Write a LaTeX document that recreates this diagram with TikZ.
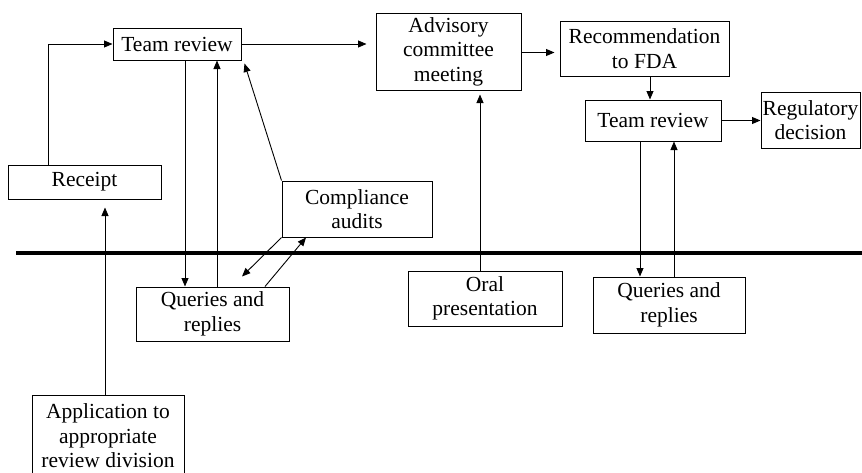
\documentclass[tikz,border=0pt]{standalone}
\usepackage{fontspec}
\setmainfont{Liberation Serif}
\usetikzlibrary{positioning,arrows.meta}

\begin{document}
\begin{tikzpicture}[x=1pt, y=-1pt,
    box/.style={draw, line width=1pt, align=center, inner sep=1pt,
      font=\fontsize{21.5}{24.5}\selectfont},
    arr/.style={line width=0.9pt, -{Triangle[length=8.5pt,width=7pt]}}]
  \useasboundingbox (0,0) rectangle (862,472);

  % Boxes above the line
  \node[box, minimum width=153pt, minimum height=34pt] (receipt) at (84.5,182) {Receipt};
  \node[box, minimum width=128pt, minimum height=32pt] (team1) at (177,44) {Team review};
  \node[box, minimum width=150pt, minimum height=56pt] (comp) at (357,209) {Compliance\\audits};
  \node[box, minimum width=145pt, minimum height=77pt] (advisory) at (448.5,51.5) {Advisory\\committee\\meeting};
  \node[box, minimum width=169pt, minimum height=55pt] (recom) at (644.5,48.5) {Recommendation\\to FDA};
  \node[box, minimum width=136pt, minimum height=41pt] (team2) at (653,120.5) {Team review};
  \node[box, minimum width=99pt, minimum height=56pt] (regul) at (810.5,120) {Regulatory\\decision};

  % Boxes below the line
  \node[box, minimum width=153pt, minimum height=54pt] (query1) at (212.5,314) {Queries and\\replies};
  \node[box, minimum width=154pt, minimum height=55pt] (oral) at (485,298.5) {Oral\\presentation};
  \node[box, minimum width=152pt, minimum height=56pt] (query2) at (669,305) {Queries and\\replies};
  \node[box, minimum width=152pt, minimum height=82pt] (appl) at (108,436) {Application to\\appropriate\\review division};

  % Dividing line
  \draw[line width=4pt] (16,253) -- (862,253);

  % Left side
  \draw[arr, shorten >=8pt] ([xshift=-3pt]appl.north) -- ([xshift=-3pt]appl.north |- receipt.south);
  \draw[arr] ([xshift=-36.5pt]receipt.north) |- (team1.west);
  \draw[arr] ([xshift=8pt]team1.south) -- ([xshift=8pt]team1.south |- query1.north);
  \draw[arr] ([xshift=4.5pt]query1.north) -- ([xshift=4.5pt]query1.north |- team1.south);
  \draw[arr] (comp.north west) -- ([xshift=3pt,yshift=-3pt]team1.south east);
  \draw[arr] (comp.south west) -- ([xshift=29.5pt,yshift=10pt]query1.north);
  \draw[arr] ([xshift=52.5pt]query1.north) -- ([xshift=-51pt]comp.south);

  % Middle
  \draw[arr, shorten >=9pt] (team1.east) -- (team1.east -| advisory.west);
  \draw[arr, shorten >=5pt] ([yshift=-1pt]advisory.east) -- ([yshift=-1pt]advisory.east -| recom.west);
  \draw[arr, shorten >=4pt] ([xshift=-5pt]oral.north) -- ([xshift=-5pt]oral.north |- advisory.south);

  % Right side
  \draw[arr] ([xshift=5.5pt]recom.south) -- ([xshift=5.5pt]recom.south |- team2.north);
  \draw[arr] (team2.east) -- (team2.east -| regul.west);
  \draw[arr] ([xshift=-13pt]team2.south) -- ([xshift=-13pt]team2.south |- query2.north);
  \draw[arr] ([xshift=5pt]query2.north) -- ([xshift=5pt]query2.north |- team2.south);
\end{tikzpicture}
\end{document}
